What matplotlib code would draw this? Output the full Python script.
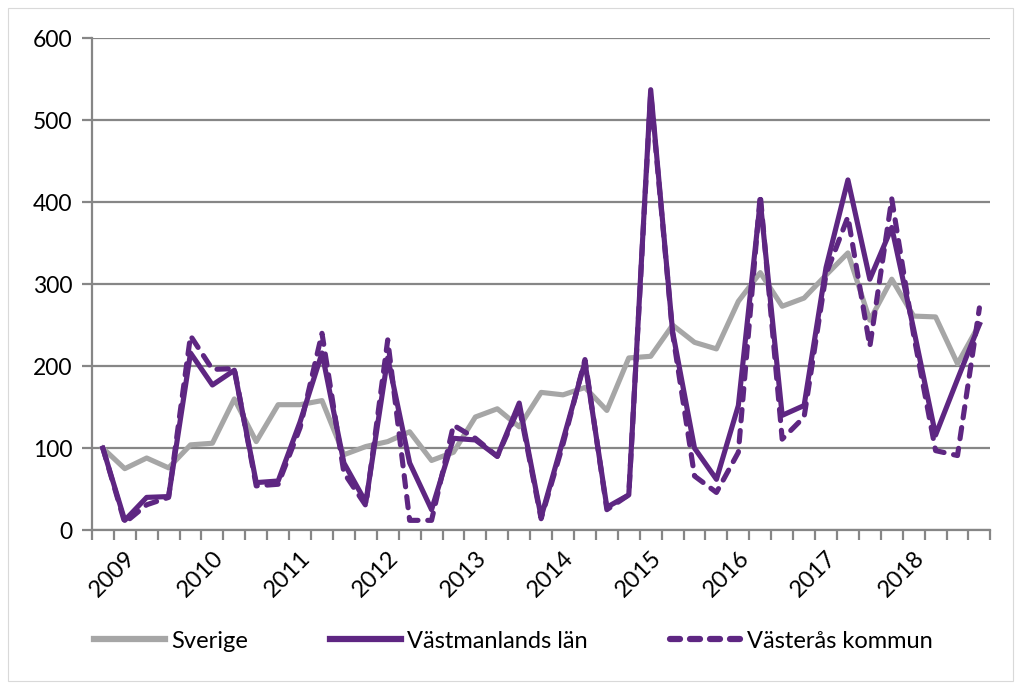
import matplotlib.pyplot as plt
from matplotlib.lines import Line2D
from matplotlib.patches import Rectangle

plt.rcParams['font.family'] = ['Lato', 'DejaVu Sans']

# quarterly values, first point is the quarter before the 2009 label
years = ['2009', '2010', '2011', '2012', '2013', '2014', '2015', '2016', '2017', '2018']
sverige = [100, 75, 88, 76, 104, 106, 160, 108, 153, 153, 158, 92, 102, 108, 120,
           85, 95, 138, 148, 126, 168, 165, 174, 146, 210, 212, 250, 229, 221, 279,
           314, 273, 283, 311, 338, 256, 306, 261, 260, 203, 251]
vastmanland = [100, 12, 40, 41, 216, 177, 195, 58, 60, 132, 216, 82, 34, 210, 82,
               25, 112, 110, 90, 155, 16, 110, 205, 28, 43, 537, 242, 100, 62, 152,
               401, 140, 152, 320, 427, 306, 369, 245, 116, 184, 251]
vasteras = [100, 9, 31, 40, 237, 196, 197, 54, 56, 125, 240, 70, 30, 232, 12,
            12, 128, 112, 90, 150, 14, 105, 208, 25, 43, 533, 240, 66, 46, 95,
            409, 111, 138, 312, 382, 224, 404, 238, 97, 91, 271]

gray = '#A6A6A6'
purple = '#5E2682'
axcol = '#868686'

fig = plt.figure(figsize=(10.21, 6.85), dpi=100)
fig.patches.append(Rectangle((0.008, 0.006), 0.984, 0.982, transform=fig.transFigure,
                             fill=False, edgecolor='#D9D9D9', linewidth=0.8))
ax = fig.add_axes([0.090, 0.226, 0.880, 0.7185])

x = list(range(len(sverige)))
ax.plot(x, sverige, color=gray, lw=3.7, solid_joinstyle='round', label='Sverige', zorder=3)
ax.plot(x, vastmanland, color=purple, lw=3.7, solid_joinstyle='round', label='Västmanlands län', zorder=4)
ax.plot(x, vasteras, color=purple, lw=3.7, dashes=(2.2, 1.9), dash_capstyle='round',
        dash_joinstyle='round', label='Västerås kommun', zorder=5)

ax.set_xlim(-0.5, len(x) - 0.5)
ax.set_ylim(0, 600)
ax.set_yticks(range(0, 601, 100))
ax.grid(axis='y', color=axcol, lw=1.6)
ax.set_axisbelow(True)

ax.set_xticks([i + 0.5 for i in range(-1, len(x))], minor=True)
ax.set_xticks(range(1, len(x), 4))
ax.set_xticklabels(years, rotation=45, ha='right', rotation_mode='anchor', va='top')
ax.tick_params(axis='x', which='major', length=0, pad=12, labelsize=17)
ax.tick_params(axis='x', which='minor', length=7, width=1.6, color=axcol)
ax.tick_params(axis='y', length=7, width=1.6, color=axcol, labelsize=16.5, pad=7)

for s in ['top', 'right']:
    ax.spines[s].set_visible(False)
for s in ['left', 'bottom']:
    ax.spines[s].set_color(axcol)
    ax.spines[s].set_linewidth(1.6)

handles = [Line2D([], [], color=gray, lw=4.5),
           Line2D([], [], color=purple, lw=4.5),
           Line2D([], [], color=purple, lw=4.5, dashes=(1.6, 1.6), dash_capstyle='round')]
fig.legend(handles, ['Sverige', 'Västmanlands län', 'Västerås kommun'], loc='center',
           bbox_to_anchor=(0.503, 0.064), ncol=3, frameon=False, fontsize=17,
           handlelength=3.0, handletextpad=0.25, columnspacing=3.5)

fig.savefig('out.png', dpi=100)
